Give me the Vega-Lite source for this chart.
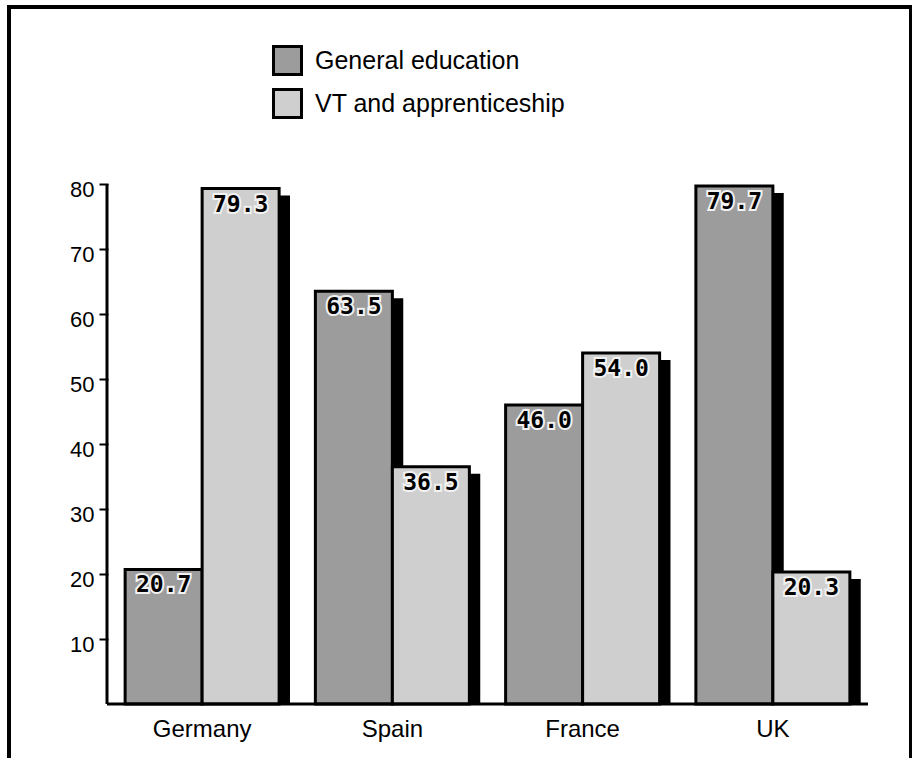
{
  "$schema": "https://vega.github.io/schema/vega-lite/v6.json",
  "width": 902,
  "height": 756,
  "autosize": {"type": "none"},
  "padding": {"left": 9, "top": 7, "right": 1, "bottom": 0},
  "background": "white",
  "config": {
    "view": {"stroke": "black", "strokeWidth": 4},
    "font": "Liberation Sans"
  },
  "datasets": {
    "bars": [
      {"country": "Germany", "series": "General education", "value": 20.7},
      {"country": "Germany", "series": "VT and apprenticeship", "value": 79.3},
      {"country": "Spain", "series": "General education", "value": 63.5},
      {"country": "Spain", "series": "VT and apprenticeship", "value": 36.5},
      {"country": "France", "series": "General education", "value": 46.0},
      {"country": "France", "series": "VT and apprenticeship", "value": 54.0},
      {"country": "UK", "series": "General education", "value": 79.7},
      {"country": "UK", "series": "VT and apprenticeship", "value": 20.3}
    ],
    "axisline": [{"a": "Germany", "b": "UK"}]
  },
  "resolve": {"scale": {"xOffset": "independent"}},
  "layer": [
    {
      "data": {"name": "bars"},
      "mark": {"type": "bar", "color": "black", "yOffset": 7, "y2Offset": 0},
      "encoding": {
        "x": {"field": "country", "type": "nominal",
              "scale": {"domain": ["Germany", "Spain", "France", "UK"], "paddingInner": 0, "paddingOuter": 0.3706, "align": 0.695},
              "axis": {"orient": "bottom", "offset": -59, "domain": false, "ticks": false, "labelPadding": 13,
                       "labelFontSize": 24, "labelColor": "black", "labelAngle": 0, "title": null, "grid": false}},
        "xOffset": {"field": "series", "type": "nominal",
                    "scale": {"type": "band", "domain": ["General education", "VT and apprenticeship"], "paddingInner": 0, "paddingOuter": 0.2354, "align": 0.8}},
        "y": {"field": "value", "type": "quantitative",
              "scale": {"domain": [-9.08, 107.23], "nice": false, "zero": false},
              "axis": {"values": [10, 20, 30, 40, 50, 60, 70, 80], "offset": -99, "domain": false, "grid": false,
                       "tickColor": "black", "tickWidth": 2, "tickSize": 9, "labelPadding": 5,
                       "labelFontSize": 22, "labelColor": "black", "labelOffset": 6, "title": null}},
        "y2": {"datum": 0}
      }
    },
    {
      "data": {"name": "bars"},
      "mark": {"type": "bar", "stroke": "black", "strokeWidth": 3},
      "encoding": {
        "x": {"field": "country", "type": "nominal"},
        "xOffset": {"field": "series", "type": "nominal",
                    "scale": {"type": "band", "domain": ["General education", "VT and apprenticeship"], "paddingInner": 0, "paddingOuter": 0.2354, "align": 0.5}},
        "y": {"field": "value", "type": "quantitative"},
        "fill": {"field": "series", "type": "nominal",
                 "scale": {"domain": ["General education", "VT and apprenticeship"], "range": ["#9c9c9c", "#cfcfcf"]},
                 "legend": {"orient": "none", "legendX": 263, "legendY": 38, "title": null, "padding": 0,
                            "symbolType": "square", "symbolSize": 784, "symbolStrokeColor": "black", "symbolStrokeWidth": 3,
                            "symbolOpacity": 1, "labelFontSize": 25, "labelColor": "black", "labelOffset": 12,
                            "labelLimit": 500, "rowPadding": 2}}
      }
    },
    {
      "data": {"name": "axisline"},
      "mark": {"type": "rule", "color": "black", "strokeWidth": 3},
      "encoding": {
        "x": {"field": "a", "type": "nominal", "bandPosition": 0},
        "y": {"datum": 0},
        "y2": {"datum": 80}
      }
    },
    {
      "data": {"name": "axisline"},
      "mark": {"type": "rule", "color": "black", "strokeWidth": 3},
      "encoding": {
        "x": {"field": "a", "type": "nominal", "bandPosition": 0},
        "x2": {"field": "b", "bandPosition": 1},
        "y": {"datum": 0}
      }
    },
    {
      "data": {"name": "bars"},
      "mark": {"type": "text", "baseline": "top", "align": "center", "dy": 5, "font": "DejaVu Sans Mono", "fontSize": 23, "fontWeight": "bold",
               "stroke": "#f2f2f2", "strokeWidth": 4, "fill": "#f2f2f2"},
      "encoding": {
        "x": {"field": "country", "type": "nominal"},
        "xOffset": {"field": "series", "type": "nominal", "bandPosition": 0.5,
                    "scale": {"type": "band", "domain": ["General education", "VT and apprenticeship"], "paddingInner": 0, "paddingOuter": 0.2354, "align": 0.5}},
        "y": {"field": "value", "type": "quantitative"},
        "text": {"field": "value", "type": "quantitative", "format": ".1f"}
      }
    },
    {
      "data": {"name": "bars"},
      "mark": {"type": "text", "baseline": "top", "align": "center", "dy": 5, "font": "DejaVu Sans Mono", "fontSize": 23, "fontWeight": "bold", "color": "black"},
      "encoding": {
        "x": {"field": "country", "type": "nominal"},
        "xOffset": {"field": "series", "type": "nominal", "bandPosition": 0.5,
                    "scale": {"type": "band", "domain": ["General education", "VT and apprenticeship"], "paddingInner": 0, "paddingOuter": 0.2354, "align": 0.5}},
        "y": {"field": "value", "type": "quantitative"},
        "text": {"field": "value", "type": "quantitative", "format": ".1f"}
      }
    }
  ]
}
